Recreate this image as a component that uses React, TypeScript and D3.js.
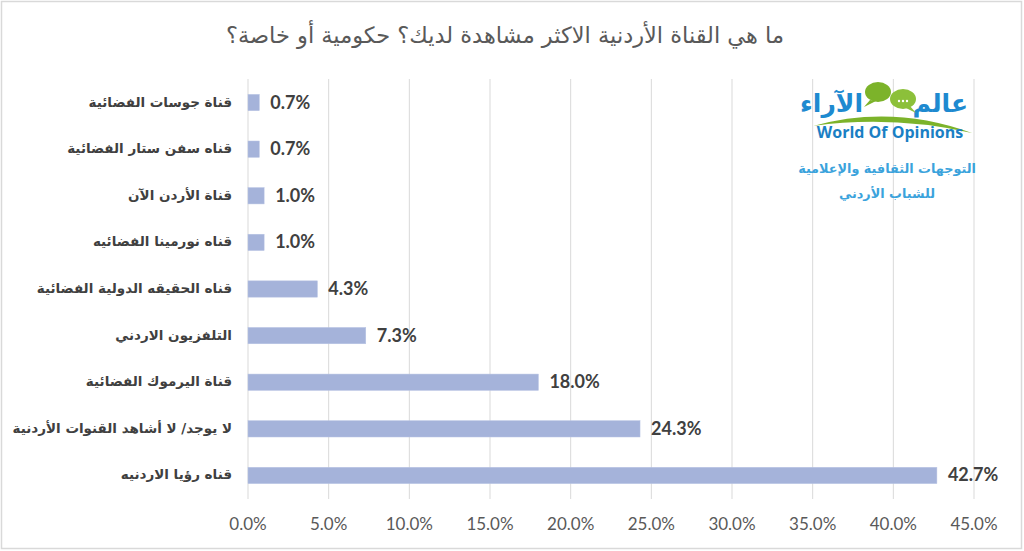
import * as d3 from 'd3';

const categories = [
  'قناة جوسات الفضائية',
  'قناه سفن ستار الفضائية',
  'قناة الأردن الآن',
  'قناه نورمينا الفضائيه',
  'قناه الحقيقه الدولية الفضائية',
  'التلفزيون الاردني',
  'قناة اليرموك الفضائية',
  'لا يوجد/ لا أشاهد القنوات الأردنية',
  'قناه رؤيا الاردنيه',
];
const values = [0.7, 0.7, 1.0, 1.0, 4.3, 7.3, 18.0, 24.3, 42.7];
const xTicks = [0, 5, 10, 15, 20, 25, 30, 35, 40, 45];

const TITLE = 'ما هي القناة الأردنية الاكثر مشاهدة لديك؟ حكومية أو خاصة؟';
const W = 1024;
const H = 551;
const M = { top: 79, right: 50, bottom: 52, left: 248 };

const AR_FONT = '"DejaVu Sans", sans-serif';
const NUM_FONT = 'Lato, "Open Sans", sans-serif';

export default function App() {
  const x = d3.scaleLinear().domain([0, 45]).range([M.left, W - M.right]);
  const y = d3.scaleBand<string>().domain(categories).range([M.top, H - M.bottom]).paddingInner(0.65).paddingOuter(0.33);
  const bw = y.bandwidth();
  const fmt = (v: number) => `${v.toFixed(1)}%`;

  return (
    <div style={{ position: 'fixed', left: 0, top: 0 }}>
      <svg width={W} height={H} style={{ display: 'block', background: '#fff' }}>
        <rect x={1.5} y={1.5} width={W - 4} height={H - 4} fill="#fff" stroke="#d9d9d9" strokeWidth={1.5} />
        <text x={505} y={43} textAnchor="middle" fontFamily={AR_FONT} fontSize={22.5} fill="#595959" style={{ direction: 'rtl' }}>
          {TITLE}
        </text>

        {/* grid */}
        {xTicks.map(t => (
          <line key={t} x1={x(t)} x2={x(t)} y1={M.top} y2={H - M.bottom} stroke="#d9d9d9" strokeWidth={1} />
        ))}
        {xTicks.map(t => (
          <text key={`l${t}`} x={x(t)} y={530} textAnchor="middle" fontFamily={NUM_FONT} fontSize={17} fill="#595959">
            {fmt(t)}
          </text>
        ))}

        {/* logo */}
        <g>
          <path d="M813,126 Q892,104 972,133 Q892,115 813,126 Z" fill="#7cb32a" />
          <text x={968} y={112} textAnchor="end" fontFamily={AR_FONT} fontWeight="bold" fontSize={25} fill="#1e8ad0">عالم</text>
          <ellipse cx={878} cy={92} rx={13} ry={10} fill="#7cb32a" />
          <path d="M870,100 L864,107 L876,101 Z" fill="#7cb32a" />
          <ellipse cx={903} cy={99} rx={13} ry={10} fill="#8cc03a" />
          <path d="M910,106 L916,113 L904,107 Z" fill="#8cc03a" />
          {[-4, 0, 4].map(d => <circle key={d} cx={903 + d} cy={101} r={1.2} fill="#fff" />)}
          <text x={863} y={112} textAnchor="end" fontFamily={AR_FONT} fontWeight="bold" fontSize={25} fill="#1e8ad0">الآراء</text>
          <text x={890} y={138} textAnchor="middle" fontFamily='"Open Sans", sans-serif' fontWeight="bold" fontSize={16} fill="#1a7fc4">World Of Opinions</text>
          <text x={887} y={173} textAnchor="middle" fontFamily={AR_FONT} fontWeight="bold" fontSize={12.8} fill="#3ba3dc" style={{ direction: 'rtl' }}>التوجهات الثقافية والإعلامية</text>
          <text x={887} y={198} textAnchor="middle" fontFamily={AR_FONT} fontWeight="bold" fontSize={12.8} fill="#3ba3dc" style={{ direction: 'rtl' }}>للشباب الأردني</text>
        </g>

        {/* bars */}
        {categories.map((c, i) => {
          const yc = y(c)! + bw / 2;
          return (
            <g key={c}>
              <rect x={x(0)} y={y(c)} width={x(values[i]) - x(0)} height={bw} fill="#a5b3da" stroke="#b8c4e4" strokeWidth={0.5} />
              <text x={x(values[i]) + 11} y={yc + 6} fontFamily={NUM_FONT} fontWeight="bold" fontSize={18} fill="#404040">
                {fmt(values[i])}
              </text>
              <text x={232} y={yc + 4} textAnchor="start" fontFamily={AR_FONT} fontWeight="bold" fontSize={13.5} fill="#404040" style={{ direction: 'rtl' }}>
                {c}
              </text>
            </g>
          );
        })}
      </svg>
    </div>
  );
}
